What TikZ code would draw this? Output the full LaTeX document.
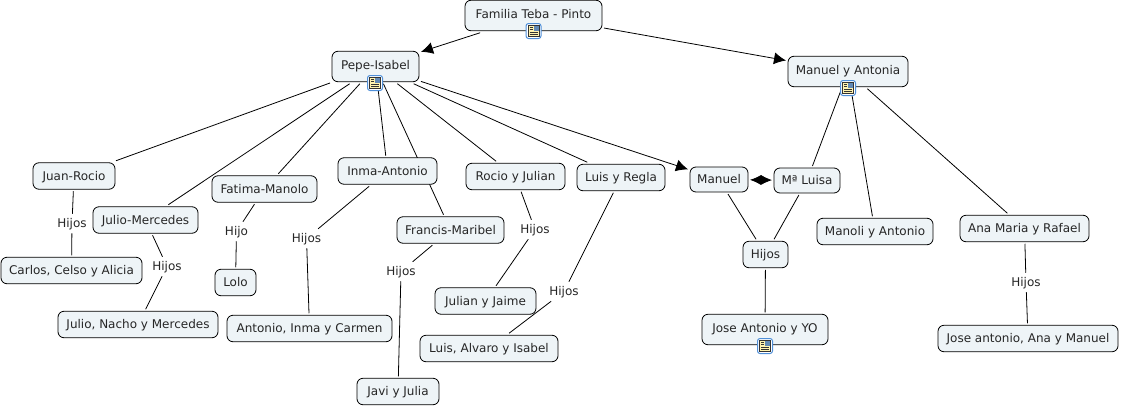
\documentclass[tikz,border=0pt]{standalone}
\usepackage{fontspec}
\setmainfont{DejaVu Sans}
\usetikzlibrary{arrows.meta,backgrounds}
\definecolor{boxFill}{HTML}{EEF4F7}
\definecolor{iconBlue}{HTML}{4F8FD8}
\definecolor{iconPage}{HTML}{FFF3B0}
\tikzset{
box/.style = {rectangle, draw=black, line width=0.8pt, fill=boxFill, rounded corners=6pt, minimum width=#1,
              minimum height=26.5pt, inner sep=0pt, outer sep=2pt, text height=11pt, text depth=2.5pt},
box/.default = 100pt,
iconbox/.style = {box=#1, minimum height=30.5pt, text depth=5.5pt},
word/.style = {rectangle, fill=white, inner sep=1pt, outer sep=2pt, text height=11pt, text depth=2.5pt},
link/.style = {line width=0.8pt},
arrow/.style = {line width=0.8pt, -{Latex[length=12pt,width=12pt]}},
noteicon/.pic = {
    \draw[iconBlue, fill=white, line width=1pt, rounded corners=2.5pt] (-7.5,-7.5) rectangle (7.5,7.5);
    \draw[black!80, fill=iconPage, line width=0.6pt] (-5.5,-5.5) rectangle (5.5,5.5);
    \fill[iconBlue!60!gray] (0,-5) rectangle (5,0);
    \foreach \yy in {1.5,3.5} {\draw[black!80, line width=0.5pt] (-4,\yy) -- (4,\yy);}
    \foreach \yy in {-3.5,-1.5} {\draw[black!80, line width=0.5pt] (-4,\yy) -- (-1,\yy);}
}
}

\begin{document}
\begin{tikzpicture}[x=1pt, y=-1pt, font=\fontsize{12}{14}\selectfont, text=black!85]
    \useasboundingbox (0,0) rectangle (1121,407);

    \node[iconbox=137] (familyBox) at (533.5,15.5) {Familia Teba - Pinto};
    \node[iconbox=87] (pepeBox) at (375.5,66.5) {Pepe-Isabel};
    \node[iconbox=120] (antoniaBox) at (848,71.5) {Manuel y Antonia};

    \node[box=82] (juanBox) at (74,176) {Juan-Rocio};
    \node[box=105] (julioBox) at (145.5,220) {Julio-Mercedes};
    \node[box=105] (fatimaBox) at (264.5,189) {Fatima-Manolo};
    \node[box=99] (inmaBox) at (387.5,171) {Inma-Antonio};
    \node[box=99] (rocioBox) at (515.5,176.5) {Rocio y Julian};
    \node[box=88] (luisBox) at (621,177.5) {Luis y Regla};
    \node[box=58, minimum height=25pt] (manuelBox) at (719,179.5) {Manuel};
    \node[box=66, minimum height=25pt] (luisaBox) at (807,180.5) {Mª Luisa};
    \node[box=116] (manoliBox) at (875,231.5) {Manoli y Antonio};
    \node[box=129] (anaBox) at (1024.5,228.5) {Ana Maria y Rafael};
    \node[box=107] (francisBox) at (450.5,230) {Francis-Maribel};
    \node[box=45] (hijosBox) at (765.5,254.5) {Hijos};

    \node[box=141] (carlosBox) at (71.5,270.5) {Carlos, Celso y Alicia};
    \node[box=41] (loloBox) at (235.5,282.5) {Lolo};
    \node[box=160] (nachoBox) at (138,324.5) {Julio, Nacho y Mercedes};
    \node[box=165] (carmenBox) at (309.5,328.5) {Antonio, Inma y Carmen};
    \node[box=101] (jaimeBox) at (485.5,301) {Julian y Jaime};
    \node[box=138] (isabelBox) at (489,348.5) {Luis, Alvaro y Isabel};
    \node[iconbox=126] (yoBox) at (765,329.5) {Jose Antonio y YO};
    \node[box=180] (manuelEndBox) at (1028,338.5) {Jose antonio, Ana y Manuel};
    \node[box=82] (javiBox) at (398,391.5) {Javi y Julia};

    \node[word] (juanWord) at (72,223.5) {Hijos};
    \node[word] (julioWord) at (167,266.5) {Hijos};
    \node[word] (fatimaWord) at (236.5,231.5) {Hijo};
    \node[word] (inmaWord) at (306.5,238.5) {Hijos};
    \node[word] (francisWord) at (401,271.5) {Hijos};
    \node[word] (rocioWord) at (535,229.5) {Hijos};
    \node[word] (luisWord) at (564,291.5) {Hijos};
    \node[word] (anaWord) at (1026,282.5) {Hijos};

    \pic at (533.5,31) {noteicon};
    \pic at (375,83) {noteicon};
    \pic at (848,88) {noteicon};
    \pic at (765,346) {noteicon};

    \begin{pgfonlayer}{background}
    \draw[arrow] (familyBox) -- (pepeBox);
    \draw[arrow] (familyBox) -- (antoniaBox);
    \draw[arrow] (pepeBox) -- (manuelBox);

    \draw[link] (pepeBox) -- (juanBox);
    \draw[link] (pepeBox) -- (julioBox);
    \draw[link] (pepeBox) -- (fatimaBox);
    \draw[link] (pepeBox) -- (inmaBox);
    \draw[link] (pepeBox) -- (francisBox);
    \draw[link] (pepeBox) -- (rocioBox);
    \draw[link] (pepeBox) -- (luisBox);

    \draw[link] (antoniaBox) -- (luisaBox);
    \draw[link] (antoniaBox) -- (manoliBox);
    \draw[link] (antoniaBox) -- (anaBox);

    \draw[link] (juanBox) -- (juanWord);
    \draw[link] (juanWord) -- (carlosBox);
    \draw[link] (julioBox) -- (julioWord);
    \draw[link] (julioWord) -- (nachoBox);
    \draw[link] (fatimaBox) -- (fatimaWord);
    \draw[link] (fatimaWord) -- (loloBox);
    \draw[link] (inmaBox) -- (inmaWord);
    \draw[link] (inmaWord) -- (carmenBox);
    \draw[link] (francisBox) -- (francisWord);
    \draw[link] (francisWord) -- (javiBox);
    \draw[link] (rocioBox) -- (rocioWord);
    \draw[link] (rocioWord) -- (jaimeBox);
    \draw[link] (luisBox) -- (luisWord);
    \draw[link] (luisWord) -- (isabelBox);
    \draw[link] (anaBox) -- (anaWord);
    \draw[link] (anaWord) -- (manuelEndBox);

    \draw[link] (manuelBox) -- (hijosBox);
    \draw[link] (luisaBox) -- (hijosBox);
    \draw[link] (hijosBox) -- (yoBox);
    \end{pgfonlayer}

    \draw[line width=0.8pt, {Latex[length=11pt,width=10pt]}-{Latex[length=11pt,width=10pt]}] (manuelBox) -- (luisaBox);
\end{tikzpicture}
\end{document}
